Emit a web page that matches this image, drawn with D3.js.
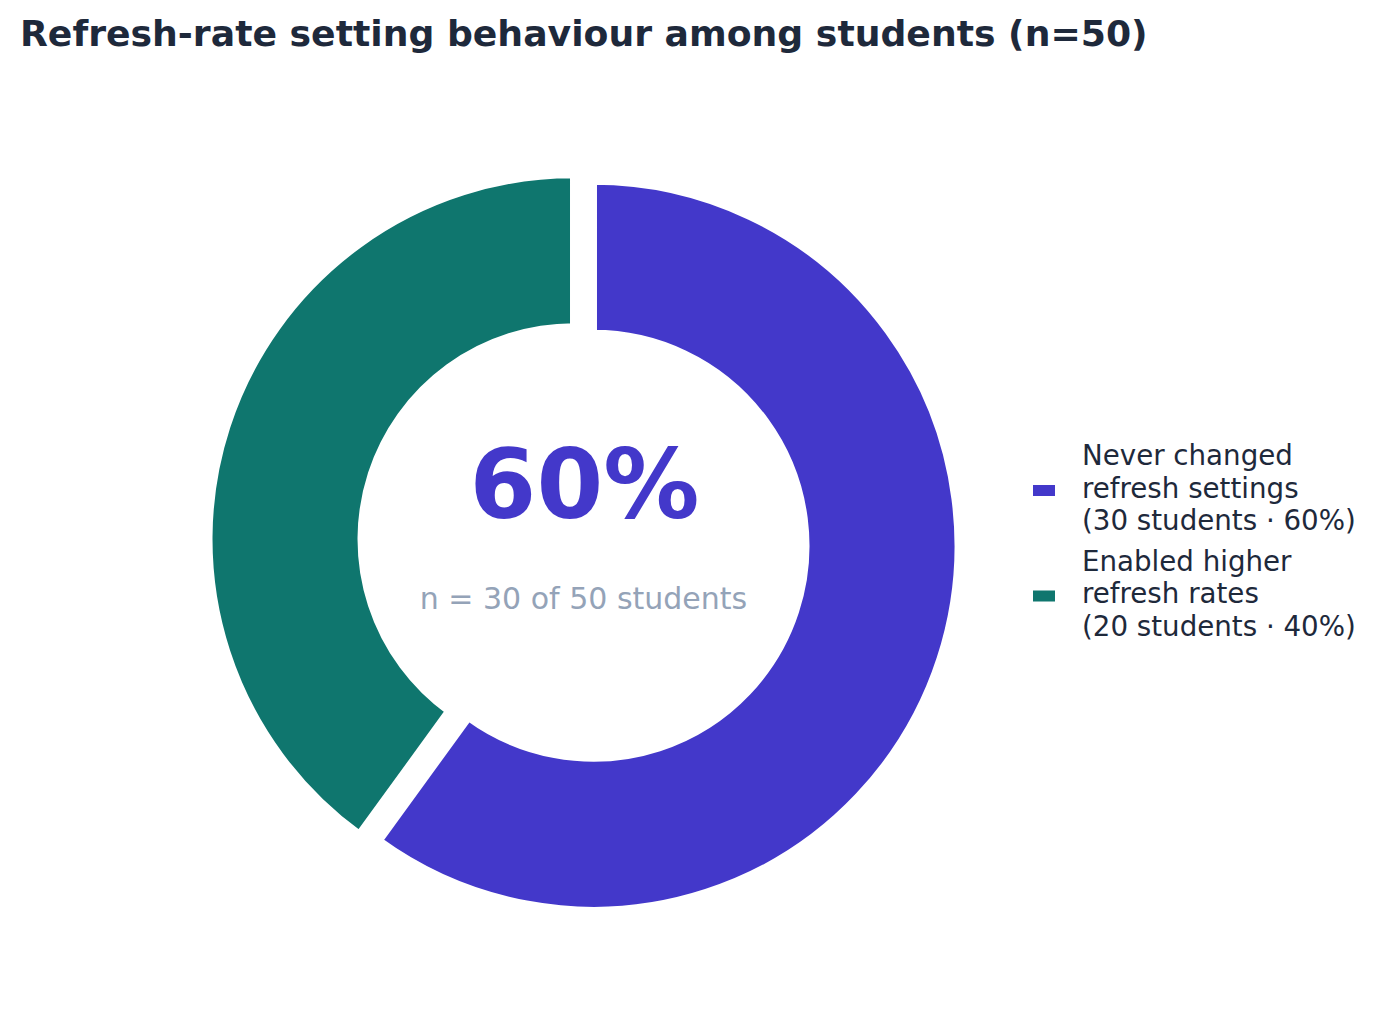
<!DOCTYPE html>
<html>
<head>
<meta charset="utf-8">
<script src="https://cdn.jsdelivr.net/npm/d3@7"></script>
<style>
  body { margin: 0; background: #fff; }
  text { font-family: "DejaVu Sans", sans-serif; }
</style>
</head>
<body>
<div id="chart"></div>
<script>
// Data
const categories = ["Never changed refresh settings", "Enabled higher refresh rates"];
const counts = [30, 20];
const shares = [60, 40];
const legendLines = [
  ["Never changed", "refresh settings", "(30 students · 60%)"],
  ["Enabled higher", "refresh rates", "(20 students · 40%)"]
];
const colors = ["#4338CA", "#0F766E"];
const total = 50;

const W = 1387, H = 1019;
const cx = 583.5, cy = 542.5;
const outerR = 364.5, innerR = 212.5;
const explode = 10.5;

const svg = d3.select("#chart").append("svg")
  .attr("width", W)
  .attr("height", H);

// Title
svg.append("text")
  .attr("x", 20)
  .attr("y", 46)
  .attr("fill", "#1E293B")
  .style("font-size", "36.2px")
  .style("font-weight", "bold")
  .text("Refresh-rate setting behaviour among students (n=" + total + ")");

const pie = d3.pie().sort(null).value(d => d);
const arc = d3.arc().innerRadius(innerR).outerRadius(outerR);
const color = d3.scaleOrdinal().domain(categories).range(colors);

const donut = svg.append("g")
  .attr("transform", "translate(" + cx + "," + cy + ")");

donut.selectAll(".arc")
  .data(pie(counts))
  .enter().append("path")
  .attr("class", "arc")
  .attr("d", arc)
  .attr("fill", (d, i) => color(categories[i]))
  .attr("stroke", "#fff")
  .attr("stroke-width", 7)
  .attr("transform", d => {
    const mid = (d.startAngle + d.endAngle) / 2;
    return "translate(" + (explode * Math.sin(mid)) + "," + (-explode * Math.cos(mid)) + ")";
  });

// Centre label
donut.append("text")
  .attr("x", 1)
  .attr("y", -24.5)
  .attr("text-anchor", "middle")
  .attr("fill", colors[0])
  .style("font-size", "96px")
  .style("font-weight", "bold")
  .text(shares[0] + "%");

donut.append("text")
  .attr("x", 0)
  .attr("y", 66)
  .attr("text-anchor", "middle")
  .attr("fill", "#94A3B8")
  .style("font-size", "30px")
  .text("n = " + counts[0] + " of " + total + " students");

// Legend
const legend = svg.selectAll(".legend")
  .data(legendLines)
  .enter().append("g")
  .attr("class", "legend")
  .attr("transform", (d, i) => "translate(1033," + (465 + i * 105.5) + ")");

legend.append("rect")
  .attr("x", 0)
  .attr("y", 20)
  .attr("width", 22)
  .attr("height", 11)
  .attr("fill", (d, i) => colors[i]);

legend.each(function(lines) {
  const t = d3.select(this).append("text")
    .attr("x", 49)
    .attr("y", 0)
    .attr("fill", "#1E293B")
    .style("font-size", "27.7px");
  lines.forEach((l, j) => {
    t.append("tspan").attr("x", 49).attr("y", j * 32.5).text(l);
  });
});
</script>
</body>
</html>
